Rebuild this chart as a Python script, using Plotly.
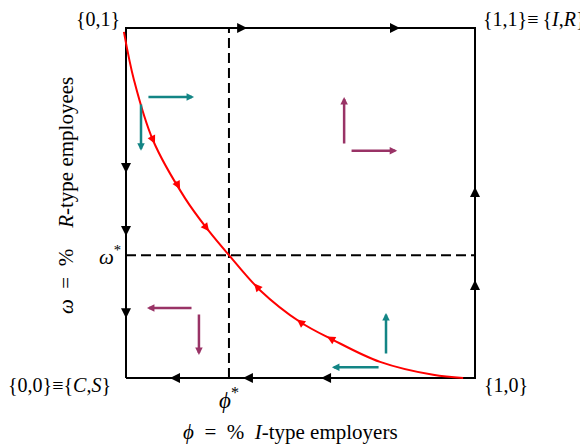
import numpy as np
import plotly.graph_objects as go

# ---------------- data ----------------
# separatrix (red curve)
curve_phi = [-0.006, 0.023, 0.077, 0.169, 0.235, 0.295, 0.384, 0.499, 0.593, 0.728, 0.880, 0.966]
curve_omega = [0.989, 0.851, 0.680, 0.514, 0.423, 0.351, 0.251, 0.160, 0.109, 0.046, 0.009, 0.0]

phi_star = 0.295
omega_star = 0.351

# arrowheads on the curve (tip positions, phi)
curve_arrows_down = [0.083, 0.155, 0.238]   # flowing toward the interior point
curve_arrows_up = [0.367, 0.490, 0.576]     # flowing toward the interior point

# arrows on the border of the square
top_arrows_phi = [0.347, 0.785]      # pointing right
right_arrows_omega = [0.546, 0.280]  # pointing up
left_arrows_omega = [0.586, 0.406, 0.171]  # pointing down
bottom_arrows_phi = [0.126, 0.335, 0.559]  # pointing left

# direction-field arrows: (tail phi, tail omega, head phi, head omega)
teal_arrows = [
    (0.060, 0.803, 0.195, 0.803),
    (0.043, 0.786, 0.043, 0.649),
    (0.745, 0.066, 0.745, 0.186),
    (0.728, 0.031, 0.590, 0.031),
]
purple_arrows = [
    (0.625, 0.666, 0.625, 0.803),
    (0.642, 0.649, 0.777, 0.649),
    (0.192, 0.200, 0.060, 0.200),
    (0.209, 0.186, 0.209, 0.066),
]

corner_labels = [
    ("{0,1}", -0.011, 1.026, "right", 20),
    ("{1,1}\u2261\u2009{<i>I</i>,<i>R</i>}", 1.017, 1.026, "left", 20),
    ("{0,0}\u2261{<i>C</i>,<i>S</i>}", -0.037, -0.020, "right", 20),
    ("{1,0}", 1.020, -0.020, "left", 20),
]

x_title = "<i>\u03d5</i>\u2002=\u2002%\u2002<i>I</i>-type employers"
y_title = "<i>\u03c9</i>\u2002=\u2002%\u2002\u2002<i>R</i>-type employees"

# ---------------- figure ----------------
FONT = "Times New Roman, Liberation Serif, DejaVu Serif"
TEAL = "#138585"
PURPLE = "#993366"

fig = go.Figure()

# dashed equilibrium lines
fig.add_trace(go.Scatter(x=[phi_star, phi_star], y=[0, 1], mode="lines",
                         line=dict(color="black", width=2, dash="10px,5px"),
                         hoverinfo="skip", showlegend=False))
fig.add_trace(go.Scatter(x=[0, 1], y=[omega_star, omega_star], mode="lines",
                         line=dict(color="black", width=2, dash="10px,5px"),
                         hoverinfo="skip", showlegend=False))

# border square
fig.add_trace(go.Scatter(x=[0, 0, 1, 1, 0], y=[0, 1, 1, 0, 0], mode="lines",
                         line=dict(color="black", width=2),
                         hoverinfo="skip", showlegend=False))

# red separatrix
fig.add_trace(go.Scatter(x=curve_phi, y=curve_omega, mode="lines",
                         line=dict(color="red", width=2, shape="spline", smoothing=1.0),
                         hoverinfo="skip", showlegend=False))

annotations = []


def arrow(tail, head, color, width, size):
    annotations.append(dict(
        x=head[0], y=head[1], ax=tail[0], ay=tail[1],
        xref="x", yref="y", axref="x", ayref="y",
        text="", showarrow=True, arrowhead=2, arrowsize=size,
        arrowwidth=width, arrowcolor=color, standoff=0, startstandoff=0,
    ))


L = 0.035
for p in top_arrows_phi:
    arrow((p - L, 1), (p, 1), "black", 2, 1.0)
for w in right_arrows_omega:
    arrow((1, w - L), (1, w), "black", 2, 1.0)
for w in left_arrows_omega:
    arrow((0, w + L), (0, w), "black", 2, 1.0)
for p in bottom_arrows_phi:
    arrow((p + L, 0), (p, 0), "black", 2, 1.0)

cp = np.array(curve_phi)
co = np.array(curve_omega)


def curve_at(p):
    return float(np.interp(p, cp, co))


def curve_arrow(p, sign):
    h = 0.01
    d = np.array([2 * h, curve_at(p + h) - curve_at(p - h)]) * sign
    d = d / np.hypot(*d)
    tip = np.array([p, curve_at(p)])
    tail = tip - d * 0.03
    arrow(tuple(tail), tuple(tip), "red", 1.5, 1.1)


for p in curve_arrows_down:
    curve_arrow(p, 1)
for p in curve_arrows_up:
    curve_arrow(p, -1)

for a in teal_arrows:
    arrow((a[0], a[1]), (a[2], a[3]), TEAL, 2.5, 0.6)
for a in purple_arrows:
    arrow((a[0], a[1]), (a[2], a[3]), PURPLE, 2.5, 0.6)

for txt, x, y, anc, sz in corner_labels:
    annotations.append(dict(x=x, y=y, xref="x", yref="y", text=txt, showarrow=False,
                            xanchor=anc, yanchor="middle",
                            font=dict(family=FONT, size=sz, color="black")))

annotations.append(dict(x=phi_star, y=-0.058, xref="x", yref="y",
                        text="<i>\u03d5</i><sup>*</sup>", showarrow=False,
                        xanchor="center", yanchor="middle",
                        font=dict(family=FONT, size=23, color="black")))
annotations.append(dict(x=-0.008, y=omega_star, xref="x", yref="y",
                        text="<i>\u03c9</i><sup>*</sup>", showarrow=False,
                        xanchor="right", yanchor="middle",
                        font=dict(family=FONT, size=21, color="black")))
annotations.append(dict(x=0.472, y=-0.155, xref="x", yref="y", text=x_title,
                        showarrow=False, xanchor="center", yanchor="middle",
                        font=dict(family=FONT, size=21, color="black")))
annotations.append(dict(x=-0.170, y=0.522, xref="x", yref="y", text=y_title,
                        showarrow=False, xanchor="center", yanchor="middle", textangle=-90,
                        font=dict(family=FONT, size=21, color="black")))

# the page adds an 8px body margin, so the figure is 8px smaller and
# its axis ranges start 8px further in
fig.update_layout(
    width=580, height=438,
    margin=dict(l=0, r=0, t=0, b=0),
    paper_bgcolor="white", plot_bgcolor="white",
    font=dict(family=FONT),
    xaxis=dict(range=[-118 / 349, 462 / 349], visible=False, fixedrange=True),
    yaxis=dict(range=[-68 / 350, 370 / 350], visible=False, fixedrange=True),
    annotations=annotations,
    showlegend=False,
)

fig.write_html("out.html")
